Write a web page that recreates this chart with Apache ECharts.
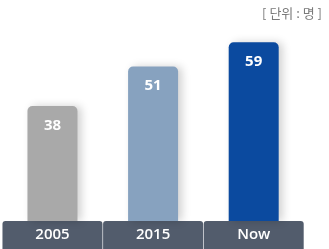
<!DOCTYPE html>
<html><head><meta charset="utf-8">
<script src="https://cdn.jsdelivr.net/npm/echarts@6/dist/echarts.min.js"></script>
<style>html,body{margin:0;padding:0;background:#fff}#c{width:329px;height:249px}</style>
</head><body><div id="c"></div>
<script>
const categories = ['2005', '2015', 'Now'];
const values = [38, 51, 59];
const barColors = ['#a9a9a9', '#87a2bf', '#0b4a9f'];
const unitText = '[ 단위 : 명 ]';

const chart = echarts.init(document.getElementById('c'), null, {renderer: 'canvas'});
chart.setOption({
  animation: false,
  backgroundColor: '#fff',
  title: {
    text: unitText, right: 2, top: 2,
    textStyle: {fontSize: 13, fontWeight: 'normal', color: '#7a7a7a', fontFamily: 'Noto Sans CJK KR'}
  },
  grid: {left: -1, width: 305, top: 9, bottom: 28, containLabel: false},
  xAxis: {
    type: 'category', data: categories,
    axisLine: {show: false}, axisTick: {show: false},
    axisLabel: {
      margin: 0, width: 100, height: 28, lineHeight: 28, align: 'center', verticalAlign: 'top',
      backgroundColor: '#525c6c', borderRadius: [3, 3, 0, 0],
      color: '#fff', fontSize: 15, fontWeight: 600, fontFamily: 'Open Sans'
    }
  },
  yAxis: {type: 'value', min: 0, max: 70, show: false, splitLine: {show: false}},
  series: [{
    type: 'bar', barWidth: 50,
    data: values.map((v, i) => ({value: v, itemStyle: {color: barColors[i]}})),
    itemStyle: {borderRadius: [5, 5, 0, 0], shadowColor: 'rgba(0,0,0,0.18)', shadowBlur: 8, shadowOffsetX: 4, shadowOffsetY: 0},
    label: {show: true, position: 'insideTop', distance: 12, color: '#fff', fontSize: 15, fontWeight: 'bold', fontFamily: 'Open Sans'}
  }]
});
</script></body></html>
